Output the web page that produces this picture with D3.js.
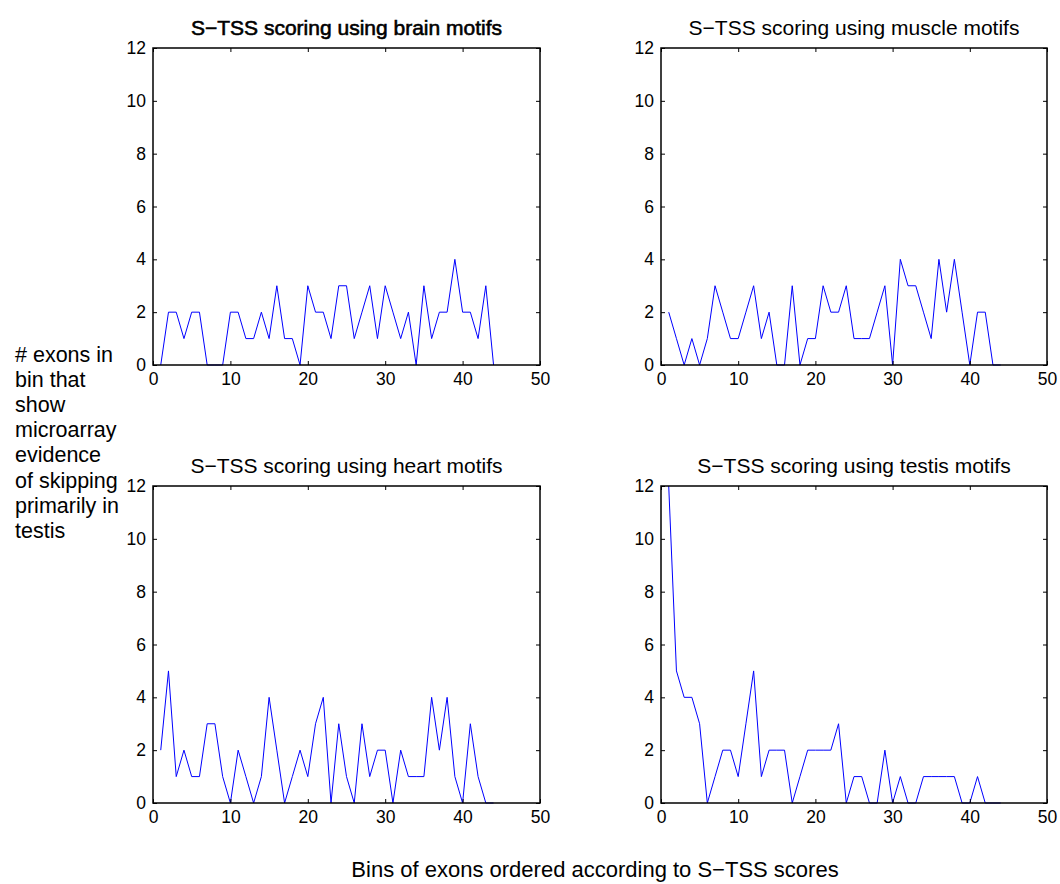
<!DOCTYPE html>
<html>
<head>
<meta charset="utf-8">
<script src="https://cdn.jsdelivr.net/npm/d3@7"></script>
<style>
  body { margin: 0; background: #fff; }
  svg { display: block; font-family: "Liberation Sans", Arial, sans-serif; }
</style>
</head>
<body>
<svg id="chart" width="1060" height="884"></svg>
<script>
const titles = [
  "S\u2212TSS scoring using brain motifs",
  "S\u2212TSS scoring using muscle motifs",
  "S\u2212TSS scoring using heart motifs",
  "S\u2212TSS scoring using testis motifs"
];

// exon counts per bin (bins 1..44)
const brain = [0,2,2,1,2,2,0,0,0,2,2,1,1,2,1,3,1,1,0,3,2,2,1,3,3,1,2,3,1,3,2,1,2,0,3,1,2,2,4,2,2,1,3,0];
const muscle = [2,1,0,1,0,1,3,2,1,1,2,3,1,2,0,0,3,0,1,1,3,2,2,3,1,1,1,2,3,0,4,3,3,2,1,4,2,4,2,0,2,2,0,0];
const heart = [2,5,1,2,1,1,3,3,1,0,2,1,0,1,4,2,0,1,2,1,3,4,0,3,1,0,3,1,2,2,0,2,1,1,1,4,2,4,1,0,3,1,0,0];
const testis = [12,5,4,4,3,0,1,2,2,1,3,5,1,2,2,2,0,1,2,2,2,2,3,0,1,1,0,0,2,0,1,0,0,1,1,1,1,1,0,0,1,0,0,0];

const xTicks = [0, 10, 20, 30, 40, 50];
const yTicks = [0, 2, 4, 6, 8, 10, 12];

const yLabelLines = ["# exons in", "bin that", "show", "microarray", "evidence",
  "of skipping", "primarily in", "testis"];
const xLabel = "Bins of exons ordered according to S\u2212TSS scores";

const series = [brain, muscle, heart, testis];

const svg = d3.select("#chart");

const panels = [
  { left: 153, right: 540, top: 48, bottom: 365 },
  { left: 661, right: 1047, top: 48, bottom: 365 },
  { left: 153, right: 540, top: 486, bottom: 803 },
  { left: 661, right: 1047, top: 486, bottom: 803 }
];

panels.forEach((p, i) => {
  const data = series[i];
  const x = d3.scaleLinear().domain([0, 50]).range([p.left, p.right]);
  const y = d3.scaleLinear().domain([0, 12]).range([p.bottom, p.top]);
  const g = svg.append("g");

  const line = d3.line()
    .x((d, k) => x(k + 1))
    .y(d => y(d));

  g.append("path")
    .datum(data)
    .attr("fill", "none")
    .attr("stroke", "#0000ff")
    .attr("stroke-width", 1)
    .attr("d", line);

  const styleAxis = (a) => {
    a.select(".domain").remove();
    a.selectAll(".tick line").attr("stroke", "#000").attr("stroke-width", 1);
    a.selectAll("text").attr("fill", "#000").style("font-size", "17.5px");
  };

  g.append("g")
    .attr("transform", `translate(0,${p.bottom})`)
    .call(d3.axisBottom(x).tickValues(xTicks).tickSize(-4).tickPadding(8))
    .call(styleAxis);
  g.append("g")
    .attr("transform", `translate(0,${p.top})`)
    .call(d3.axisTop(x).tickValues(xTicks).tickSize(-4).tickFormat(""))
    .call(styleAxis);
  g.append("g")
    .attr("transform", `translate(${p.left},0)`)
    .call(d3.axisLeft(y).tickValues(yTicks).tickSize(-4).tickPadding(7))
    .call(styleAxis);
  g.append("g")
    .attr("transform", `translate(${p.right},0)`)
    .call(d3.axisRight(y).tickValues(yTicks).tickSize(-4).tickFormat(""))
    .call(styleAxis);

  g.append("rect")
    .attr("x", p.left).attr("y", p.top)
    .attr("width", p.right - p.left).attr("height", p.bottom - p.top)
    .attr("fill", "none").attr("stroke", "#000").attr("stroke-width", 1.5);

  g.append("text")
    .attr("x", (p.left + p.right) / 2)
    .attr("y", p.top - 13)
    .attr("text-anchor", "middle")
    .style("font-size", "21px")
    .attr("stroke", i === 0 ? "#000" : "none")
    .attr("stroke-width", i === 0 ? 0.6 : 0)
    .text(titles[i]);
});

svg.append("g")
  .selectAll("text")
  .data(yLabelLines)
  .join("text")
  .attr("x", 15)
  .attr("y", (d, k) => 362 + k * 25.1)
  .style("font-size", "21.5px")
  .text(d => d);

svg.append("text")
  .attr("x", 595)
  .attr("y", 877)
  .attr("text-anchor", "middle")
  .style("font-size", "22px")
  .text(xLabel);
</script>
</body>
</html>
